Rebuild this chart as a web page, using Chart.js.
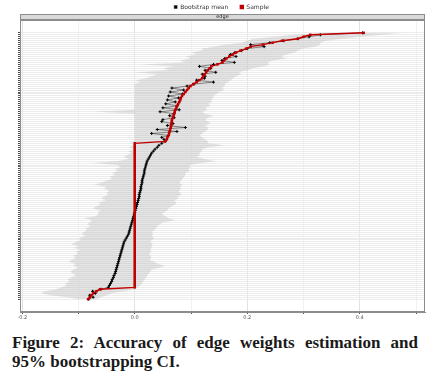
<!DOCTYPE html>
<html>
<head>
<meta charset="utf-8">
<script src="https://cdn.jsdelivr.net/npm/chart.js@4.4.1/dist/chart.umd.min.js"></script>
<style>
  body { margin: 0; background: #fff; width: 431px; height: 376px; overflow: hidden; }
  #wrap { position: absolute; left: 0; top: 0; width: 431px; height: 324px; }
  .cap { position: absolute; left: 12px; width: 406px; font-family: "Liberation Serif", serif;
         font-weight: bold; font-size: 17px; color: #1a1a1a; line-height: 19px; white-space: nowrap; }
  #cap1 { top: 333px; text-align: justify; text-align-last: justify; }
  #cap2 { top: 352px; }
</style>
</head>
<body>
<div id="wrap"><canvas id="chart" width="431" height="324"></canvas></div>
<div class="cap" id="cap1">Figure 2: Accuracy of edge weights estimation and</div>
<div class="cap" id="cap2">95% bootstrapping CI.</div>
<script>
// edges sorted by sample weight, top row first
const seriesNames = ['Bootstrap mean', 'Sample'];
const stripLabel = 'edge';
const xTicks = [-0.2, -0.1, 0.0, 0.1, 0.2, 0.3, 0.4, 0.5];

const sample = [
  0.407, 0.312, 0.300, 0.290, 0.262, 0.245, 0.228, 0.206, 0.198, 0.188,
  0.180, 0.174, 0.168, 0.163, 0.159, 0.156, 0.147, 0.136, 0.133, 0.130,
  0.127, 0.124, 0.122, 0.120, 0.115, 0.110, 0.104, 0.099, 0.096, 0.093,
  0.090, 0.087, 0.084, 0.082, 0.081, 0.079, 0.077, 0.075, 0.074, 0.072,
  0.071, 0.070, 0.069, 0.068, 0.066, 0.066, 0.065, 0.065, 0.064, 0.063,
  0.062, 0.061, 0.060, 0.058, 0.057, 0.054,
  0, 0, 0, 0, 0, 0, 0, 0, 0, 0,
  0, 0, 0, 0, 0, 0, 0, 0, 0, 0,
  0, 0, 0, 0, 0, 0, 0, 0, 0, 0,
  0, 0, 0, 0, 0, 0, 0, 0, 0, 0,
  0, 0, 0, 0, 0, 0, 0, 0, 0, 0,
  0, 0, 0, 0, 0, 0, 0, 0, 0, 0,
  0, 0, 0, 0, 0, 0, 0, 0, 0, 0,
  0, 0, 0, 0,
  -0.062, -0.068, -0.074, -0.077, -0.080, -0.083
];

const bootMean = [
  0.405, 0.330, 0.310, 0.290, 0.265, 0.240, 0.206, 0.230, 0.200, 0.190,
  0.178, 0.170, 0.180, 0.160, 0.155, 0.177, 0.140, 0.115, 0.135, 0.125,
  0.144, 0.120, 0.125, 0.124, 0.110, 0.140, 0.105, 0.093, 0.066, 0.087,
  0.063, 0.085, 0.060, 0.078, 0.058, 0.072, 0.055, 0.076, 0.050, 0.079,
  0.045, 0.070, 0.062, 0.070, 0.050, 0.048, 0.068, 0.058, 0.090, 0.040,
  0.075, 0.030, 0.060, 0.048, 0.052, 0.054,
  0.048, 0.043, 0.040, 0.036, 0.033, 0.030, 0.028, 0.026, 0.024, 0.022,
  0.021, 0.020, 0.019, 0.018, 0.017, 0.017, 0.016, 0.015, 0.014, 0.013,
  0.013, 0.012, 0.011, 0.011, 0.010, 0.009, 0.008, 0.008, 0.007, 0.006,
  0.005, 0.004, 0.003, 0.002, 0.001, 0.000, -0.001, -0.002, -0.003, -0.004,
  -0.005, -0.006, -0.007, -0.008, -0.009, -0.010, -0.011, -0.013, -0.015, -0.017,
  -0.019, -0.020, -0.021, -0.022, -0.023, -0.024, -0.025, -0.026, -0.027, -0.028,
  -0.029, -0.030, -0.031, -0.032, -0.033, -0.034, -0.035, -0.037, -0.038, -0.040,
  -0.041, -0.043, -0.045, -0.047,
  -0.060, -0.075, -0.070, -0.080, -0.074, -0.082
];

// 95% bootstrap CI
const ciLower = [
  0.36, 0.28, 0.25, 0.21, 0.20, 0.19, 0.16, 0.14, 0.12, 0.12,
  0.10, 0.11, 0.09, 0.10, 0.08, 0.09, 0.01, 0.07, 0.05, 0.06,
  0.00, 0.04, 0.03, 0.02, 0.00, 0.01, 0, 0, 0, 0,
  0, 0, 0, 0, 0, 0, 0, 0, 0, 0,
  -0.072, 0, 0, 0, 0, 0, 0, 0, 0, 0,
  0, 0, 0, 0, 0, 0,
  -0.005, 0.000, -0.010, 0.000, -0.012, -0.005, -0.015, -0.020, -0.010, -0.030,
  -0.075, -0.030, -0.025, -0.035, -0.030, -0.040, -0.035, -0.045, -0.040, -0.050,
  -0.060, -0.072, -0.050, -0.055, -0.045, -0.050, -0.047, -0.055, -0.060, -0.050,
  -0.065, -0.060, -0.070, -0.074, -0.060, -0.065, -0.064, -0.070, -0.091, -0.075,
  -0.080, -0.085, -0.078, -0.088, -0.085, -0.090, -0.095, -0.088, -0.100, -0.095,
  -0.105, -0.113, -0.100, -0.108, -0.095, -0.105, -0.100, -0.110, -0.105, -0.112,
  -0.118, -0.105, -0.110, -0.100, -0.108, -0.115, -0.110, -0.105, -0.113, -0.120,
  -0.115, -0.125, -0.120, -0.130,
  -0.140, -0.160, -0.167, -0.150, -0.120, -0.100
];

const ciUpper = [
  0.48, 0.44, 0.40, 0.37, 0.34, 0.33, 0.33, 0.32, 0.30, 0.29,
  0.285, 0.27, 0.26, 0.27, 0.245, 0.235, 0.24, 0.23, 0.21, 0.20,
  0.185, 0.19, 0.18, 0.175, 0.17, 0.165, 0.16, 0.16, 0.155, 0.16,
  0.15, 0.145, 0.14, 0.14, 0.135, 0.138, 0.13, 0.135, 0.125, 0.13,
  0.12, 0.125, 0.14, 0.13, 0.125, 0.13, 0.135, 0.125, 0.13, 0.13,
  0.125, 0.12, 0.115, 0.12, 0.125, 0.13,
  0.130, 0.160, 0.130, 0.120, 0.120, 0.115, 0.115, 0.110, 0.125, 0.143,
  0.120, 0.097, 0.100, 0.095, 0.098, 0.090, 0.090, 0.088, 0.085, 0.082,
  0.079, 0.085, 0.080, 0.083, 0.078, 0.080, 0.084, 0.075, 0.078, 0.070,
  0.074, 0.072, 0.065, 0.060, 0.058, 0.052, 0.048, 0.055, 0.060, 0.072,
  0.050, 0.045, 0.040, 0.038, 0.035, 0.030, 0.033, 0.030, 0.035, 0.030,
  0.028, 0.032, 0.030, 0.030, 0.027, 0.030, 0.025, 0.028, 0.030, 0.026,
  0.035, 0.040, 0.054, 0.045, 0.030, 0.028, 0.025, 0.022, 0.020, 0.018,
  0.015, 0.013, 0.010, 0.005,
  0.000, -0.020, -0.040, -0.050, -0.060, -0.068
];

const toPts = arr => arr.map((v, i) => ({ x: v, y: i }));

// ggplot 風の枠とストリップ
const panelPlugin = {
  id: 'panel',
  afterDraw(chart) {
    const { ctx, chartArea } = chart;
    const w = chartArea.right - chartArea.left;
    ctx.save();
    ctx.fillStyle = '#d9d9d9';
    ctx.fillRect(chartArea.left, chartArea.top - 6, w, 6);
    ctx.strokeStyle = '#8c8c8c';
    ctx.lineWidth = 1;
    ctx.strokeRect(chartArea.left + 0.5, chartArea.top - 5.5, w - 1, 5);
    ctx.strokeRect(chartArea.left + 0.5, chartArea.top + 0.5, w - 1, chartArea.bottom - chartArea.top - 1);
    ctx.fillStyle = '#1a1a1a';
    ctx.font = '5px "DejaVu Sans"';
    ctx.textAlign = 'center';
    ctx.textBaseline = 'middle';
    ctx.fillText(stripLabel, (chartArea.left + chartArea.right) / 2, chartArea.top - 3);
    ctx.restore();
  }
};

new Chart(document.getElementById('chart'), {
  type: 'line',
  data: {
    datasets: [
      {
        label: seriesNames[0],
        data: toPts(bootMean),
        borderColor: '#222',
        backgroundColor: '#000',
        borderWidth: 0.5,
        pointStyle: 'cross',
        pointRadius: 1.5,
        pointBorderWidth: 1,
        pointBorderColor: '#000',
        order: 1
      },
      {
        label: seriesNames[1],
        data: toPts(sample),
        borderColor: '#c00000',
        backgroundColor: '#c00000',
        borderWidth: 1.4,
        pointStyle: 'rect',
        pointRadius: 0.8,
        pointBackgroundColor: '#c00000',
        pointBorderColor: '#c00000',
        order: 0
      },
      {
        label: 'ciLower',
        data: toPts(ciLower),
        borderWidth: 0,
        pointRadius: 0,
        fill: false,
        order: 3
      },
      {
        label: 'ciUpper',
        data: toPts(ciUpper),
        borderWidth: 0,
        pointRadius: 0,
        fill: '-1',
        backgroundColor: 'rgba(175,175,175,0.33)',
        order: 2
      }
    ]
  },
  options: {
    indexAxis: 'y',
    responsive: false,
    animation: false,
    events: [],
    layout: { padding: { left: 18, right: 6, top: -8, bottom: 2 } },
    scales: {
      x: {
        type: 'linear',
        min: -0.204,
        max: 0.516,
        afterBuildTicks: (scale) => {
          scale.ticks = xTicks.map(v => ({ value: v }));
        },
        ticks: {
          font: { size: 5, family: 'DejaVu Sans' },
          color: '#555',
          padding: 1,
          maxRotation: 0,
          callback: (v) => (Math.round(v * 10) % 2 === 0 ? v.toFixed(1) : '')
        },
        grid: {
          color: (c) => (c.tick && Math.round(c.tick.value * 10) % 2 === 0 ? '#e2e2e2' : '#f1f1f1'),
          tickLength: 2,
          tickColor: '#555'
        },
        border: { color: '#8c8c8c' }
      },
      y: {
        type: 'linear',
        reverse: true,
        min: -6.5,
        max: sample.length - 1 + 6.5,
        afterBuildTicks: (scale) => {
          // 1 行 1 エッジ
          scale.ticks = sample.map((_, i) => ({ value: i }));
        },
        ticks: { display: false },
        grid: { color: '#ececec', tickLength: 2, tickColor: '#555' },
        border: { color: '#8c8c8c' }
      }
    },
    plugins: {
      legend: {
        position: 'top',
        labels: {
          boxWidth: 3,
          boxHeight: 3,
          padding: 12,
          color: '#333',
          font: { size: 6, family: 'DejaVu Sans' },
          filter: (item) => seriesNames.includes(item.text),
          sort: (a, b) => a.datasetIndex - b.datasetIndex
        }
      },
      title: { display: false },
      tooltip: { enabled: false }
    }
  },
  plugins: [panelPlugin]
});
</script>
</body>
</html>
